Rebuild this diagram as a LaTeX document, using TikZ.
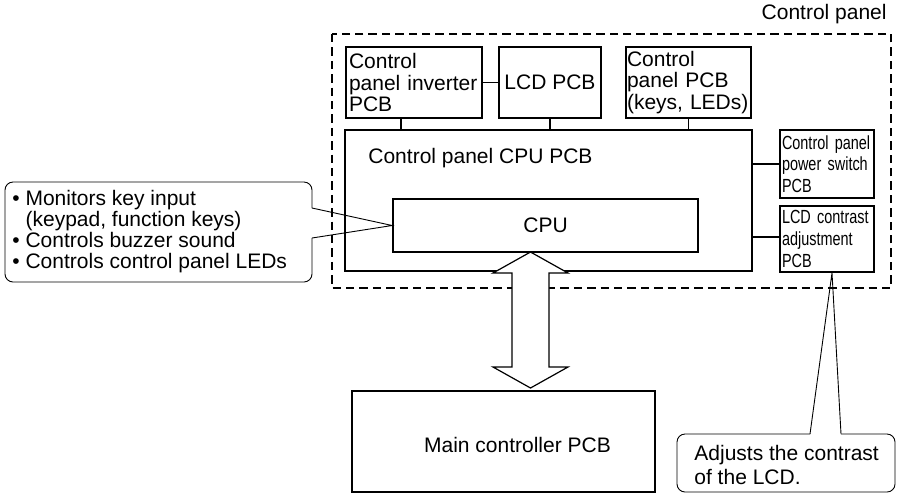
\documentclass[tikz,border=0pt]{standalone}
\usepackage{fontspec}
\setmainfont{Liberation Sans}
\newfontfamily\narrowfont[FakeStretch=0.76]{Liberation Sans}

\begin{document}
\begin{tikzpicture}[
x=0.5pt, y=-0.5pt,
font=\fontsize{10.5}{10.6}\selectfont,
box/.style={draw, line width=0.85pt, inner xsep=2pt, inner ysep=0pt, align=left},
sidebox/.style={box, inner xsep=1pt, font=\narrowfont\fontsize{9.5}{10.8}\selectfont},
frame/.style={draw, line width=1.1pt, dash pattern=on 4.2pt off 2.5pt},
link/.style={line width=0.6pt},
note/.style={line width=0.45pt, rounded corners=4pt},
pointer/.style={line width=0.45pt}
]
\useasboundingbox (0,0) rectangle (899,494);

% control panel frame
\draw[frame] (332,34) rectangle (891,288);
\node[anchor=east, inner sep=0pt] (paneltitle) at (887,14) {Control panel};

% boards on the control panel
\node[box, inner xsep=1.5pt, text width=65pt, minimum height=35.5pt] (inverter) at (414,82.5) {Control\\\mbox{panel inverter}\\PCB};
\node[box, minimum width=51pt, minimum height=35.5pt, align=center] (lcd) at (550,82.5) {LCD PCB};
\node[box, inner xsep=0.5pt, text width=61.5pt, minimum height=35.5pt] (keys) at (688.5,82.5) {Control\\panel PCB\\\mbox{(keys, LEDs)}};

\node[box, minimum width=203.5pt, minimum height=70.5pt] (cpupcb) at (548.5,200.5) {};
\node[anchor=west, inner sep=0pt] (cpupcblabel) at (368,158) {Control panel CPU PCB};
\node[box, minimum width=152.5pt, minimum height=26.5pt] (cpu) at (545.5,225.5) {CPU};

\node[sidebox, text width=45pt, minimum height=34pt] (power) at (827,164) {Control panel\\power switch\\PCB};
\node[sidebox, text width=45pt, minimum height=33pt] (contrast) at (827,239) {LCD contrast\\adjustment\\PCB};

% main board
\node[box, minimum width=151.5pt, minimum height=50.5pt] (main) at (503.5,441.5) {};
\node (mainlabel) at (517.5,445) {Main controller PCB};

% connectors
\draw[link] (inverter) -- (lcd);
\draw[link] ([xshift=-6.5pt]inverter.south) -- ([xshift=-6.5pt]inverter.south |- cpupcb.north);
\draw[link] (lcd.south) -- (lcd.south |- cpupcb.north);
\draw[link] (keys.south) -- (keys.south |- cpupcb.north);
\draw[link] (power.west -| cpupcb.east) -- (power.west);
\draw[link] ([yshift=1pt]contrast.west -| cpupcb.east) -- ([yshift=1pt]contrast.west);

% bus between cpu and main board
\draw[link, fill=white] (530.5,252) -- (568,273) -- (549,273) -- (549,367) -- (568,367)
  -- (530.5,388) -- (493,367) -- (512,367) -- (512,273) -- (493,273) -- cycle;

% notes
\draw[note] (312,208) -- (312,182) -- (5,182) -- (5,282) -- (312,282) -- (312,238);
\draw[pointer] (312,208) -- (cpu.west) -- (312,238);
\node[anchor=west, align=left, inner sep=0pt] (cpunote) at (12,231.5)
  {\textbullet\ Monitors key input\\\phantom{\textbullet\ }(keypad, function keys)\\\textbullet\ Controls buzzer sound\\\textbullet\ Controls control panel LEDs};

\draw[note] (810,434) -- (677,434) -- (677,492) -- (895,492) -- (895,434) -- (841,434);
\draw[pointer] (810,434) -- ([xshift=2.5pt]contrast.south) -- (841,434);
\node[anchor=west, align=left, inner sep=0pt, font=\fontsize{10.5}{12}\selectfont] (contrastnote) at (694,465)
  {Adjusts the contrast\\of the LCD.};

\end{tikzpicture}
\end{document}
